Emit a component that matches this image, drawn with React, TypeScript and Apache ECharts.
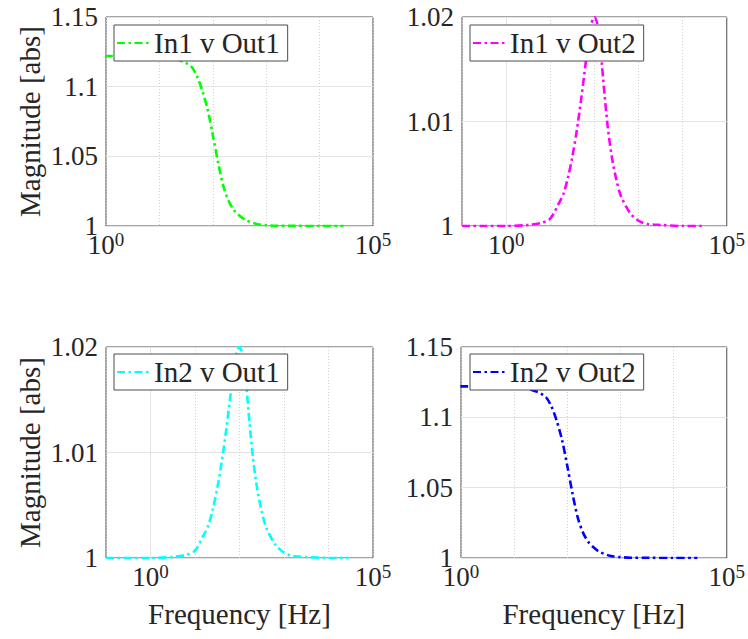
import React, { useEffect, useRef } from "react";
import * as echarts from "echarts";

// Frequency grid [Hz]
const freqHz = [
  0.1, 0.316, 1, 3.16, 6.31, 10, 15.8, 20, 25.1, 31.6, 39.8, 50.1, 63.1, 79.4,
  100, 125.9, 158.5, 199.5, 251.2, 316.2, 398.1, 631, 1000, 1585, 3162, 10000, 28000,
];

// In1 v Out1 / In2 v Out2 magnitude (low-pass like step)
const magStep = [
  1.122, 1.122, 1.122, 1.1219, 1.1217, 1.1214, 1.1205, 1.1198, 1.1186, 1.117,
  1.1143, 1.1079, 1.0976, 1.0841, 1.0654, 1.0454, 1.0283, 1.0177, 1.0112, 1.0074,
  1.0045, 1.0016, 1.0006, 1.0002, 1.0001, 1.0, 1.0,
];

// In1 v Out2 / In2 v Out1 magnitude (resonance peak)
const magPeak = [
  1.0, 1.0, 1.0, 1.0001, 1.0003, 1.0007, 1.0022, 1.0031, 1.0046, 1.0066,
  1.0091, 1.0121, 1.0155, 1.0188, 1.02, 1.0187, 1.014, 1.0096, 1.0065, 1.0044,
  1.0029, 1.0013, 1.0005, 1.0002, 1.0001, 1.0, 1.0,
];

const seriesNames = ["In1 v Out1", "In1 v Out2", "In2 v Out1", "In2 v Out2"];
const seriesColors = ["#00ff00", "#ff00ff", "#00ffff", "#0000ff"];
const seriesMags = [magStep, magPeak, magPeak, magStep];
const xMins = [1, 0.1, 0.1, 1];
const yMaxs = [1.15, 1.02, 1.02, 1.15];
const yIntervals = [0.05, 0.01, 0.01, 0.05];
const xMax = 100000;
const yMin = 1;
const yLabel = "Magnitude [abs]";
const xLabel = "Frequency [Hz]";

const FONT = "Liberation Serif";
const TEXT = "#262626";

const gridBoxes = [
  { left: 106, top: 17, width: 267, height: 209 },
  { left: 462, top: 17, width: 266, height: 209 },
  { left: 106, top: 347, width: 267, height: 211 },
  { left: 461, top: 347, width: 267, height: 211 },
];
const legendPos = [
  { left: 114, top: 25 },
  { left: 470, top: 25 },
  { left: 114, top: 354 },
  { left: 470, top: 354 },
];

export default function App() {
  const ref = useRef<HTMLDivElement>(null);
  useEffect(() => {
    if (!ref.current) return;
    const chart = echarts.init(ref.current, null, { renderer: "svg" });
    const dash = [8, 3.5, 2.5, 3.5];
    const option: any = {
      animation: false,
      backgroundColor: "#ffffff",
      textStyle: { fontFamily: FONT },
      grid: gridBoxes.map((g) => ({
        ...g,
        show: true,
        borderColor: "#4d4d4d",
        borderWidth: 1,
        backgroundColor: "transparent",
      })),
      xAxis: gridBoxes.map((_, i) => ({
        type: "log",
        logBase: 10,
        gridIndex: i,
        min: xMins[i],
        max: xMax,
        axisLine: { show: false },
        axisTick: { show: false },
        splitLine: {
          show: true,
          lineStyle: { color: "#d0d0d0", type: [1, 2], width: 1 },
        },
        axisLabel: {
          margin: 8,
          color: TEXT,
          fontFamily: FONT,
          formatter: (v: number) => {
            const e = Math.round(Math.log10(v));
            if (e === 0 || e === 5) return `{b|10}{s|${e}}`;
            return "";
          },
          rich: {
            b: { fontSize: 27, fontFamily: FONT, color: TEXT, lineHeight: 22 },
            s: { fontSize: 19, fontFamily: FONT, color: TEXT, lineHeight: 14, padding: [0, 0, 12, 0] },
          },
        },
        name: i >= 2 ? xLabel : "",
        nameLocation: "middle",
        nameGap: 41,
        nameTextStyle: { fontSize: 29, fontFamily: FONT, color: TEXT },
      })),
      yAxis: gridBoxes.map((_, i) => ({
        type: "value",
        gridIndex: i,
        min: yMin,
        max: yMaxs[i],
        interval: yIntervals[i],
        axisLine: { show: false },
        axisTick: { show: false },
        splitLine: { show: true, lineStyle: { color: "#e3e3e3", width: 1 } },
        axisLabel: {
          margin: 8,
          color: TEXT,
          fontSize: 27,
          lineHeight: 14,
          fontFamily: FONT,
          formatter: (v: number) => String(+v.toFixed(4)),
        },
        name: i % 2 === 0 ? yLabel : "",
        nameLocation: "middle",
        nameGap: 62,
        nameTextStyle: { fontSize: 29, fontFamily: FONT, color: TEXT },
      })),
      legend: seriesNames.map((n, i) => ({
        data: [n],
        left: legendPos[i].left,
        top: legendPos[i].top,
        orient: "horizontal",
        itemWidth: 32,
        itemHeight: 14,
        itemGap: 0,
        padding: [3, 8, 3, 2],
        backgroundColor: "#ffffff",
        borderColor: "#4d4d4d",
        borderWidth: 1,
        borderRadius: 0,
        selectedMode: false,
        itemStyle: { opacity: 0 },
        textStyle: { fontSize: 29, fontFamily: FONT, color: TEXT, lineHeight: 30 },
      })),
      series: seriesNames.map((n, i) => ({
        name: n,
        type: "line",
        xAxisIndex: i,
        yAxisIndex: i,
        symbol: "none",
        showSymbol: false,
        smooth: 0.3,
        clip: true,
        color: seriesColors[i],
        lineStyle: { color: seriesColors[i], width: 2.6, type: dash },
        data: freqHz.map((f, k) => [f, seriesMags[i][k]]),
        markLine:
          xMins[i] < 1
            ? {
                silent: true,
                symbol: "none",
                label: { show: false },
                lineStyle: { color: "#e3e3e3", type: "solid", width: 1 },
                data: [{ xAxis: 1 }],
                z: 1,
              }
            : undefined,
      })),
    };
    chart.setOption(option);
    return () => chart.dispose();
  }, []);
  return (
    <div
      ref={ref}
      style={{ position: "fixed", left: 0, top: 0, width: 748, height: 639, background: "#fff" }}
    />
  );
}
